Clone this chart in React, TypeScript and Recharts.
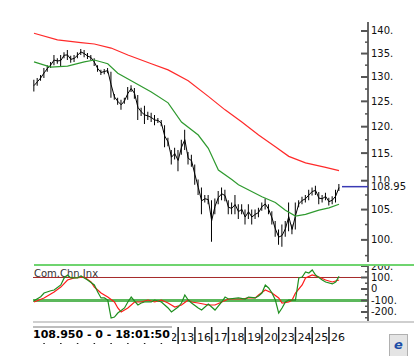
import React from 'react';
import { ComposedChart, Bar, Line, XAxis, YAxis, ReferenceLine } from 'recharts';

// trading days shown on the bottom axis, 5 bars per day
const days = ['2', '3', '4', '5', '6', '9', '10', '11', '12', '13', '16', '17', '18', '19', '20', '23', '24', '25', '26'];
const barsPerDay = 5;
const firstBar = 2;

// bar highs / lows, one per bar starting at firstBar
const highs = [
  129.4, 129.8, 130.4, 131.9, 132.5, 133.2, 134.7, 134.0, 134.7, 135.3,
  135.8, 134.5, 134.7, 135.3, 136.0, 135.8, 135.1, 134.7, 134.0, 132.5,
  131.5, 131.7, 131.9, 131.1, 126.5, 125.7, 125.3, 125.7, 127.9, 128.3,
  127.7, 126.3, 123.7, 124.1, 122.9, 122.7, 122.3, 121.7, 121.3, 120.3,
  117.9, 115.6, 116.0, 115.6, 117.5, 119.4, 115.2, 114.7, 112.9, 110.2,
  108.8, 107.5, 107.5, 106.6, 106.9, 108.2, 108.8, 108.4, 106.6, 106.2,
  107.5, 105.9, 105.9, 105.0, 105.9, 105.0, 105.0, 105.3, 106.2, 106.9,
  105.9, 104.7, 103.1, 101.7, 102.5, 103.1, 106.2, 102.5, 106.2, 106.6,
  107.2, 107.5, 108.4, 108.8, 109.1, 108.0, 107.5, 107.9, 107.0, 107.3,
  108.4, 109.4,
];
const lows = [
  127.0, 128.2, 129.2, 129.8, 131.1, 131.9, 132.5, 132.8, 132.3, 134.0,
  133.6, 133.0, 133.2, 134.0, 134.7, 134.2, 133.8, 133.6, 132.3, 131.1,
  130.4, 130.6, 130.8, 125.7, 125.3, 124.3, 123.3, 124.5, 125.3, 126.9,
  125.5, 121.3, 122.1, 120.5, 121.3, 120.9, 120.3, 120.7, 120.1, 116.1,
  116.3, 112.9, 113.8, 111.7, 114.7, 115.6, 112.9, 112.5, 109.3, 107.5,
  104.2, 106.2, 105.9, 99.7, 104.2, 105.9, 106.6, 106.4, 104.2, 104.2,
  104.2, 103.4, 104.2, 102.5, 103.4, 102.5, 103.4, 103.7, 104.8, 105.0,
  104.2, 102.5, 100.5, 99.2, 98.9, 100.5, 101.4, 100.9, 101.7, 105.4,
  105.9, 106.2, 106.6, 107.4, 107.5, 105.9, 106.2, 106.6, 105.7, 105.9,
  106.2, 108.2,
];
const lastPrice = 108.95;
const lastTime = '18:01:50';

// moving averages [bar, value]
const maSlow: [number, number][] = [
  [2, 139.5], [9, 138.0], [16, 137.4], [20, 137.1], [25, 136.2], [30, 134.7], [37, 132.8],
  [42, 131.5], [48, 129.2], [54, 126.0], [59, 123.3], [64, 120.9], [69, 118.4], [74, 116.2],
  [78, 114.4], [83, 113.2], [89, 112.4], [93, 111.8],
];
const maFast: [number, number][] = [
  [2, 133.2], [7, 132.1], [12, 132.3], [17, 133.2], [20, 133.6], [24, 132.8], [27, 130.8],
  [31, 129.2], [37, 126.9], [42, 124.7], [46, 120.9], [51, 118.4], [54, 115.9], [57, 111.9],
  [61, 110.2], [63, 109.3], [70, 107.2], [74, 106.2], [77, 104.9], [80, 103.9], [83, 104.2],
  [87, 104.9], [90, 105.3], [93, 105.9],
];

// commodity channel index [bar, value]
const cci: [number, number][] = [
  [2, -102], [4, -67], [5, -35], [7, -15], [8, -9], [10, 35], [11, 96], [12, 122], [13, 96],
  [15, 96], [16, 113], [17, 96], [18, 78], [20, 35], [21, -26], [22, -78], [23, -78], [24, -96],
  [25, -252], [26, -244], [27, -209], [29, -165], [30, -113], [31, -70], [33, -139], [34, -122],
  [35, -113], [37, -113], [38, -96], [40, -113], [41, -139], [42, -165], [43, -200], [45, -157],
  [46, -122], [47, -52], [48, -96], [49, -122], [51, -165], [52, -183], [54, -130], [55, -157],
  [56, -183], [58, -113], [59, -70], [60, -87], [63, -78], [65, -87], [66, -70], [68, -78],
  [69, -61], [70, -35], [71, 35], [72, 9], [73, -35], [74, -96], [75, -209], [76, -165],
  [77, -113], [78, -96], [80, -96], [81, 96], [82, 104], [83, 148], [84, 139], [85, 165],
  [86, 122], [88, 78], [89, 61], [91, 44], [92, 61], [93, 110],
];
const cciAvg: [number, number][] = [
  [2, -113], [5, -78], [8, -26], [10, 17], [12, 78], [14, 96], [17, 104], [19, 61], [20, 17],
  [22, -35], [24, -70], [26, -113], [27, -165], [28, -200], [30, -165], [32, -113], [34, -113],
  [36, -96], [38, -113], [40, -96], [42, -122], [44, -157], [46, -139], [48, -96], [49, -113],
  [51, -122], [54, -139], [56, -139], [58, -113], [60, -87], [62, -87], [64, -87], [66, -78],
  [68, -78], [69, -52], [71, -9], [73, -35], [75, -78], [76, -122], [78, -113], [79, -96],
  [80, -35], [82, 35], [83, 96], [85, 122], [87, 104], [89, 78], [91, 61], [93, 78],
];

const priceTicks = [97.5, 100, 102.5, 105, 107.5, 110, 112.5, 115, 117.5, 120, 122.5, 125, 127.5, 130, 132.5, 135, 137.5, 140, lastPrice];
const cciTicks = [200, 150, 100, 50, 0, -50, -100, -150, -200, -250];

const tDomain: [number, number] = [1.7, 101.64];
const font = 'DejaVu Sans, Verdana, sans-serif';
const infoBoxRight = 172;

const slowMap = new Map(maSlow);
const fastMap = new Map(maFast);
const cciMap = new Map(cci);
const cciAvgMap = new Map(cciAvg);

const rows = highs.map((h, i) => {
  const t = firstBar + i;
  return {
    t,
    range: [lows[i], h],
    mid: (lows[i] + h) / 2,
    slow: slowMap.get(t) ?? null,
    fast: fastMap.get(t) ?? null,
    cci: cciMap.get(t) ?? null,
    cciAvg: cciAvgMap.get(t) ?? null,
  };
});

const dayTicks = days.map((_, k) => k * barsPerDay).filter((t) => t >= tDomain[0]);

const PriceTick = (props: any) => {
  const { x, y, payload } = props;
  const v = payload.value as number;
  if (v === lastPrice) {
    return (
      <g>
        <line x1={x - 26} x2={x} y1={y} y2={y} stroke="#3a3ab4" strokeWidth={1.5} />
        <rect x={x + 2} y={y - 5} width={44} height={11} fill="#fff" />
        <text x={x + 3} y={y + 3.5} fontSize={10} fontFamily={font} fill="#111">{v.toFixed(2)}</text>
      </g>
    );
  }
  const major = v % 5 === 0;
  return (
    <g>
      <line x1={x - (major ? 7 : 3)} x2={x} y1={y} y2={y} stroke="#555" strokeWidth={major ? 2 : 1.5} />
      {major && (
        <text x={x + 3} y={y + 3.5} fontSize={10} fontFamily={font} fill="#111">{`${v}.`}</text>
      )}
    </g>
  );
};

const CciTick = (props: any) => {
  const { x, y, payload } = props;
  const v = payload.value as number;
  const major = v % 100 === 0;
  return (
    <g>
      <line x1={x - (major ? 7 : 3)} x2={x} y1={y} y2={y} stroke="#555" strokeWidth={major ? 2 : 1.5} />
      {major && (
        <text x={x + 3} y={y + 3.5} fontSize={10} fontFamily={font} fill="#111">{v === 0 ? '0' : `${v}.`}</text>
      )}
    </g>
  );
};

// day separators poke out below the info box; labels hidden under it are skipped
const DayTick = (props: any) => {
  const { x, y, payload } = props;
  const label = days[Math.round(payload.value / barsPerDay)];
  const hidden = x + 14 < infoBoxRight;
  return (
    <g>
      <line x1={x} x2={x} y1={y + 5} y2={y + 22} stroke="#222" strokeWidth={1.5} />
      {!hidden && (
        <text x={x + 2} y={y + 19} fontSize={11} fontFamily={font} fill="#111">{label}</text>
      )}
    </g>
  );
};

export default function App() {
  return (
    <div style={{ position: 'absolute', left: 0, top: 0, width: 414, height: 356, background: '#fff', overflow: 'hidden', fontFamily: font }}>
      <div style={{ position: 'absolute', left: 0, top: 0 }}>
        <ComposedChart width={414} height={264} data={rows} margin={{ top: 22, right: 0, bottom: 2, left: 33 }}>
          <XAxis dataKey="t" type="number" domain={tDomain} allowDataOverflow hide />
          <YAxis
            orientation="right"
            width={46}
            type="number"
            scale="log"
            domain={[96.5, 142.04]}
            allowDataOverflow
            ticks={priceTicks}
            interval={0}
            tick={<PriceTick />}
            tickLine={false}
            tickSize={0}
            tickMargin={0}
            axisLine={{ stroke: '#666', strokeWidth: 2 }}
          />
          <Bar dataKey="range" fill="#000" barSize={1} isAnimationActive={false} />
          <Line dataKey="mid" type="linear" stroke="#000" strokeWidth={1} dot={false} isAnimationActive={false} />
          <Line dataKey="slow" type="linear" stroke="#ff2a2a" strokeWidth={1.2} dot={false} connectNulls isAnimationActive={false} />
          <Line dataKey="fast" type="linear" stroke="#2f9a2f" strokeWidth={1.2} dot={false} connectNulls isAnimationActive={false} />
        </ComposedChart>
      </div>

      <div style={{ position: 'absolute', left: 34, top: 268, fontSize: 10, lineHeight: '12px', color: '#333' }}>Com.Chn.Inx</div>

      <div style={{ position: 'absolute', left: 0, top: 265 }}>
        <ComposedChart width={414} height={91} data={rows} margin={{ top: 1, right: 0, bottom: 0, left: 33 }}>
          <XAxis
            dataKey="t"
            type="number"
            domain={tDomain}
            allowDataOverflow
            ticks={dayTicks}
            interval={0}
            tick={<DayTick />}
            axisLine={false}
            tickLine={false}
            tickSize={0}
            tickMargin={0}
            height={34}
          />
          <YAxis
            orientation="right"
            width={46}
            type="number"
            domain={[-287, 200]}
            allowDataOverflow
            ticks={cciTicks}
            interval={0}
            tick={<CciTick />}
            tickLine={false}
            tickSize={0}
            tickMargin={0}
            axisLine={{ stroke: '#666', strokeWidth: 2 }}
          />
          <ReferenceLine y={100} stroke="#a52a2a" strokeWidth={1} />
          <ReferenceLine y={-100} stroke="#5cb85c" strokeWidth={3} />
          <Line dataKey="cciAvg" type="linear" stroke="#ff1a1a" strokeWidth={1.2} dot={false} connectNulls isAnimationActive={false} />
          <Line dataKey="cci" type="linear" stroke="#1f8f1f" strokeWidth={1.2} dot={false} connectNulls isAnimationActive={false} />
        </ComposedChart>
      </div>

      <div style={{ position: 'absolute', left: 34, top: 264, width: 380, height: 2, background: '#6fd46f' }} />
      <div style={{ position: 'absolute', left: 33, top: 321, width: 381, height: 2, background: '#cfcfcf' }} />

      <div
        style={{
          position: 'absolute',
          left: 33,
          top: 326,
          width: infoBoxRight - 33,
          height: 15,
          background: '#fff',
          borderTop: '2px solid #bdbdbd',
          fontSize: 11,
          fontWeight: 'bold',
          lineHeight: '14px',
          color: '#000',
          whiteSpace: 'nowrap',
        }}
      >
        {`${lastPrice.toFixed(3)} - 0 - ${lastTime}`}
      </div>

      <div
        style={{
          position: 'absolute',
          left: 389,
          top: 334,
          width: 17,
          height: 22,
          background: '#e4e4e4',
          border: '1px solid #b0b0b0',
          color: '#1d4fa8',
          fontWeight: 'bold',
          fontStyle: 'italic',
          fontSize: 13,
          lineHeight: '20px',
          textAlign: 'center',
        }}
      >
        e
      </div>
    </div>
  );
}
